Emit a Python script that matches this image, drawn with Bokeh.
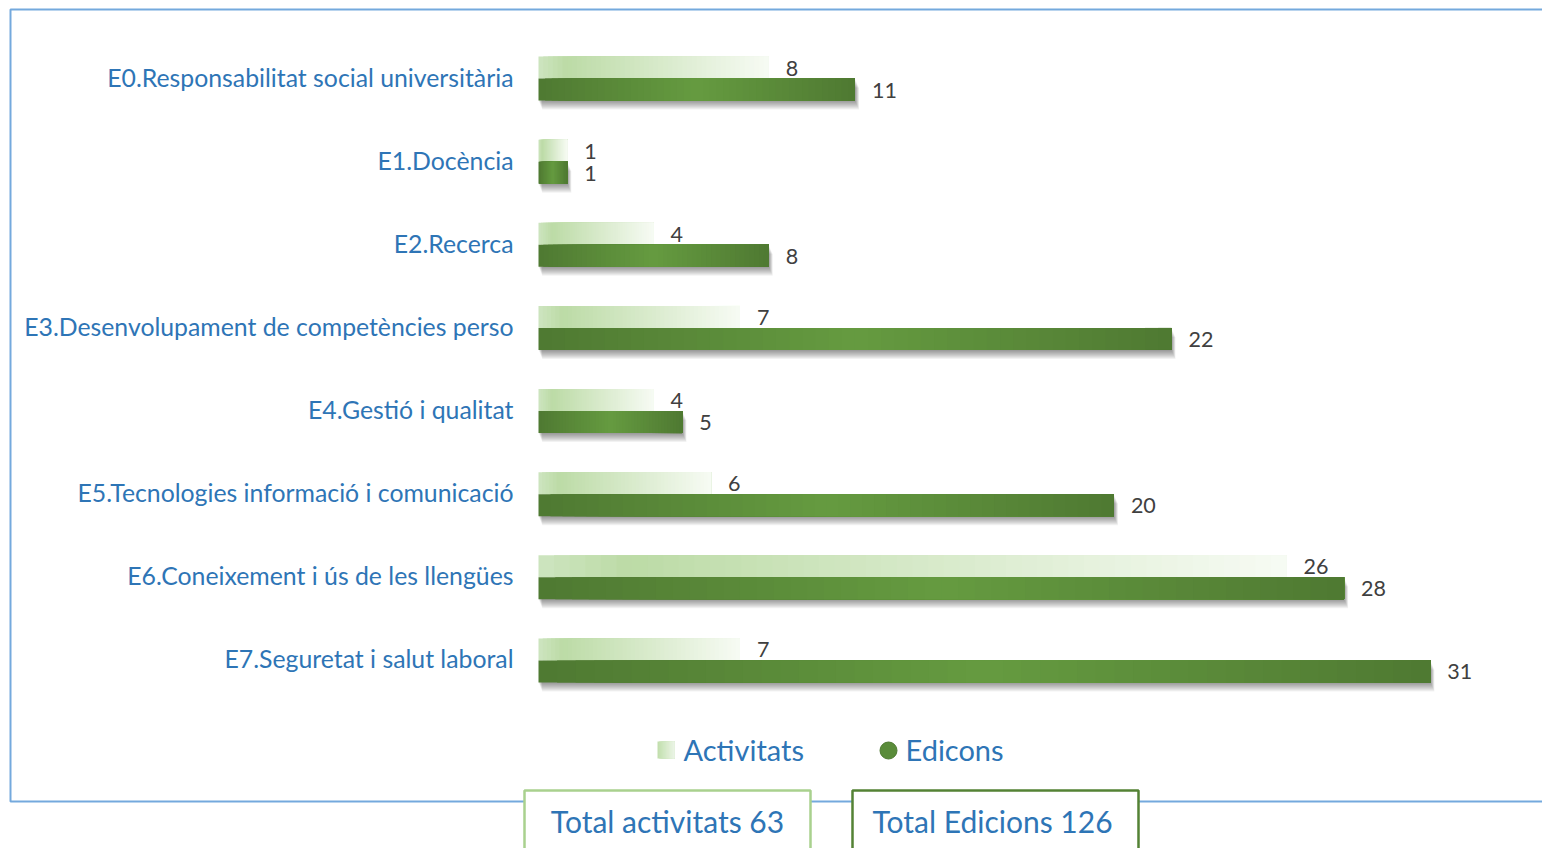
from bokeh.plotting import figure
from bokeh.models import Range1d, ColumnDataSource
from bokeh.embed import file_html
from bokeh.resources import INLINE
from bokeh.core.properties import value

# ---------------- data ----------------
categories = [
    "E0.Responsabilitat social universitària",
    "E1.Docència",
    "E2.Recerca",
    "E3.Desenvolupament de competències perso",
    "E4.Gestió i qualitat",
    "E5.Tecnologies informació i comunicació",
    "E6.Coneixement i ús de les llengües",
    "E7.Seguretat i salut laboral",
]
activitats = [8, 1, 4, 7, 4, 6, 26, 7]
edicions = [11, 1, 8, 22, 5, 20, 28, 31]
series_names = ["Activitats", "Edicons"]
total_labels = ["Total activitats 63", "Total Edicions 126"]

# ---------------- layout helpers (image pixels -> data units) ----------------
W, H = 1542, 848
PX0, PXU = 538.0, 28.77   # x pixel of value 0, pixels per unit
PY0, PYU = 78.0, 83.14    # y pixel of category 0, pixels per category


def X(px):
    return (px - PX0) / PXU


def Y(py):
    return (py - PY0) / PYU


def dx(px):
    return px / PXU


def dy(py):
    return py / PYU


p = figure(width=W, height=H, x_range=Range1d(X(0), X(W)),
           y_range=Range1d(Y(H), Y(0)), output_backend="svg",
           toolbar_location=None, min_border=0, x_axis_type=None, y_axis_type=None)
p.grid.visible = False
p.outline_line_color = None
p.background_fill_color = "white"
p.border_fill_color = "white"

FONT = value("Lato")
BLUE = "#2e75b6"

# outer blue frame
p.quad(left=[X(10)], right=[X(1700)], top=[Y(9)], bottom=[Y(801)],
       fill_color=None, line_color="#74a9dd", line_width=2)

half = dy(11)
N = 48


def lerp(c1, c2, t):
    return "#%02x%02x%02x" % tuple(int(round(a + (b - a) * t)) for a, b in zip(c1, c2))


def light_color(t):
    if t < 0.12:
        return lerp((206, 229, 192), (188, 219, 166), t / 0.12)
    return lerp((188, 219, 166), (247, 251, 244), (t - 0.12) / 0.88)


dark_e, dark_c = (79, 121, 50), (101, 155, 64)


def dark_color(t):
    return lerp(dark_e, dark_c, 1 - abs(2 * t - 1))


# light (Activitats) gradient bars: each slice runs to the bar end, later ones overlay
L = dict(left=[], right=[], top=[], bottom=[], color=[])
for i, v in enumerate(activitats):
    yc = i - half
    for k in range(N):
        L["left"].append(v * k / N)
        L["right"].append(v)
        L["top"].append(yc - half)
        L["bottom"].append(yc + half)
        L["color"].append(light_color((k + 0.5) / N))
p.quad(source=ColumnDataSource(L), left="left", right="right", top="top", bottom="bottom",
       fill_color="color", line_color=None)

# shadows for dark bars
S = dict(left=[], right=[], top=[], bottom=[])
for i, v in enumerate(edicions):
    yc = i + half
    for k in (1, 2, 3, 4, 5, 6, 7, 8, 9):
        S["left"].append(dx(k * 0.4))
        S["right"].append(v + dx(k * 0.45))
        S["top"].append(yc - half + dy(k))
        S["bottom"].append(yc + half + dy(k))
p.quad(source=ColumnDataSource(S), left="left", right="right", top="top", bottom="bottom",
       fill_color="black", fill_alpha=0.05, line_color=None)

# dark (Edicons) gradient bars
D = dict(left=[], right=[], top=[], bottom=[], color=[])
for i, v in enumerate(edicions):
    yc = i + half
    for k in range(N):
        D["left"].append(v * k / N)
        D["right"].append(v)
        D["top"].append(yc - half)
        D["bottom"].append(yc + half)
        D["color"].append(dark_color((k + 0.5) / N))
p.quad(source=ColumnDataSource(D), left="left", right="right", top="top", bottom="bottom",
       fill_color="color", line_color=None)

# value labels
off = dx(17)
p.text(x=[v + off for v in activitats], y=[i - half + dy(0.5) for i in range(len(activitats))],
       text=[str(v) for v in activitats], text_font=FONT, text_font_size="21.5px",
       text_color="#404040", text_align="left", text_baseline="middle")
p.text(x=[v + off for v in edicions], y=[i + half + dy(0.5) for i in range(len(edicions))],
       text=[str(v) for v in edicions], text_font=FONT, text_font_size="21.5px",
       text_color="#404040", text_align="left", text_baseline="middle")

# category labels
p.text(x=[X(513)] * len(categories), y=[i - dy(1.5) for i in range(len(categories))],
       text=categories, text_font=FONT, text_font_size="24.8px", text_color=BLUE,
       text_align="right", text_baseline="middle")

# legend
NL = 12
LG = dict(left=[], right=[], top=[], bottom=[], color=[])
for k in range(NL):
    LG["left"].append(X(657 + 17 * k / NL))
    LG["right"].append(X(674))
    LG["top"].append(Y(741))
    LG["bottom"].append(Y(758))
    LG["color"].append(lerp((192, 222, 172), (236, 245, 230), (k + 0.5) / NL))
p.quad(source=ColumnDataSource(LG), left="left", right="right", top="top", bottom="bottom",
       fill_color="color", line_color=None)
p.scatter(x=[X(888)], y=[Y(750)], marker="circle", size=17,
          fill_color="#5a8c3a", line_color="#4d7a31", line_width=1)
p.text(x=[X(683), X(905)], y=[Y(748.5), Y(748.5)], text=series_names, text_font=FONT,
       text_font_size="29px", text_color=BLUE, text_align="left", text_baseline="middle")

# total boxes
p.quad(left=[X(524)], right=[X(810)], top=[Y(790)], bottom=[Y(900)],
       fill_color="white", line_color="#a9d18e", line_width=2.5)
p.quad(left=[X(852)], right=[X(1138)], top=[Y(790)], bottom=[Y(900)],
       fill_color="white", line_color="#548235", line_width=2.5)
p.text(x=[X(667), X(992)], y=[Y(820.5), Y(820.5)], text=total_labels, text_font=FONT,
       text_font_size="30px", text_color=BLUE, text_align="center", text_baseline="middle")

open("out.html", "w").write(file_html(p, INLINE))
